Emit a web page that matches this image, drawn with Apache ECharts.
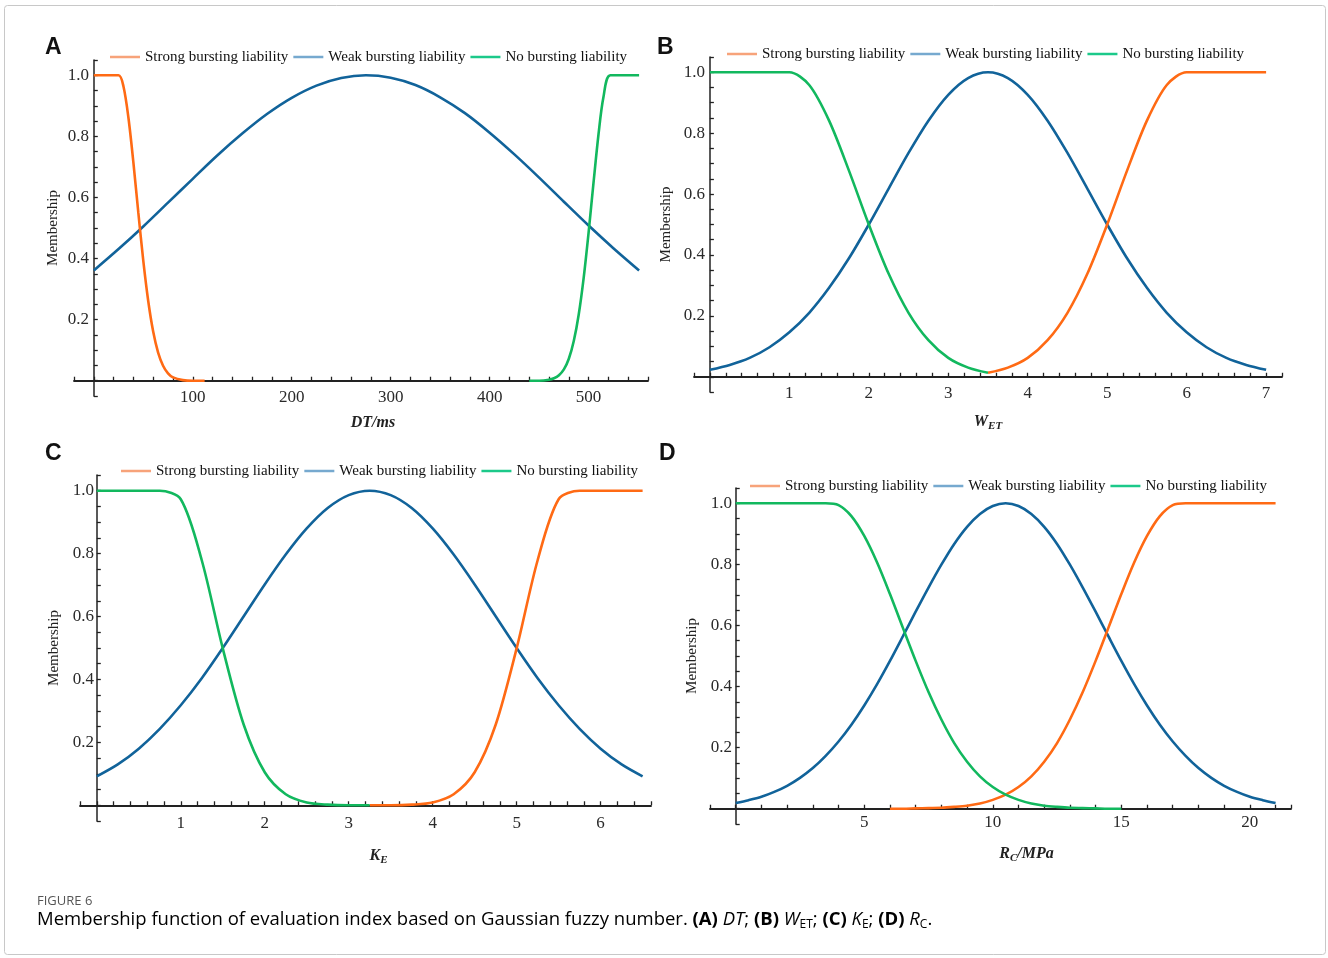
<!DOCTYPE html>
<html>
<head>
<meta charset="utf-8">
<script src="https://cdn.jsdelivr.net/npm/echarts@6/dist/echarts.min.js"></script>
<style>
  html, body { margin: 0; padding: 0; background: #fff; }
  #chart { width: 1328px; height: 958px; }
</style>
</head>
<body>
<div id="chart"></div>
<script>
  // series names, shared by the four panels
  const seriesNames = ['Strong bursting liability', 'Weak bursting liability', 'No bursting liability'];

  // (A) DT/ms
  const dtWeakX = [0, 25, 50, 75, 100, 125, 150, 175, 200, 225, 250, 275, 300, 325, 350, 375, 400, 425, 450, 475, 500, 525, 551];
  const dtWeak = [0.361, 0.431, 0.505, 0.583, 0.661, 0.738, 0.809, 0.873, 0.926, 0.966, 0.991, 1.000, 0.992, 0.968, 0.928, 0.876, 0.812, 0.741, 0.665, 0.586, 0.508, 0.434, 0.361];
  const dtStrongX = [0, 25, 30, 35, 40, 45, 50, 55, 60, 65, 70, 75, 80, 90, 100, 112];
  const dtStrong = [1, 1, 0.963, 0.861, 0.715, 0.550, 0.393, 0.261, 0.161, 0.092, 0.049, 0.024, 0.011, 0.002, 0.000, 0.000];
  const dtNoX = [440, 450, 460, 465, 470, 475, 480, 485, 490, 495, 500, 505, 510, 515, 522, 551];
  const dtNo = [0.000, 0.000, 0.003, 0.008, 0.018, 0.037, 0.072, 0.130, 0.217, 0.337, 0.486, 0.650, 0.807, 0.929, 1, 1];

  // (B) W_ET
  const wetX = [0, 0.25, 0.5, 0.75, 1, 1.25, 1.5, 1.75, 2, 2.25, 2.5, 2.75, 3, 3.25, 3.5, 3.75, 4, 4.25, 4.5, 4.75, 5, 5.25, 5.5, 5.75, 6, 6.25, 6.5, 6.75, 7];
  const wetStrong = [null, null, null, null, null, null, null, null, null, null, null, null, null, null, 0.013, 0.030, 0.062, 0.120, 0.210, 0.338, 0.500, 0.677, 0.841, 0.958, 1, 1, 1, 1, 1];
  const wetWeak = [0.023, 0.039, 0.062, 0.097, 0.146, 0.210, 0.292, 0.389, 0.500, 0.618, 0.735, 0.841, 0.926, 0.981, 1.000, 0.981, 0.926, 0.841, 0.735, 0.618, 0.500, 0.389, 0.292, 0.210, 0.146, 0.097, 0.062, 0.039, 0.023];
  const wetNo = [1, 1, 1, 1, 1, 0.958, 0.841, 0.677, 0.500, 0.338, 0.210, 0.120, 0.062, 0.030, 0.013, null, null, null, null, null, null, null, null, null, null, null, null, null, null];

  // (C) K_E
  const keX = [0, 0.25, 0.5, 0.75, 1, 1.25, 1.5, 1.75, 2, 2.25, 2.5, 2.75, 3, 3.25, 3.5, 3.75, 4, 4.25, 4.5, 4.75, 5, 5.25, 5.5, 5.75, 6, 6.25, 6.5];
  const keStrong = [null, null, null, null, null, null, null, null, null, null, null, null, null, 0.000, 0.000, 0.002, 0.009, 0.035, 0.105, 0.256, 0.499, 0.779, 0.973, 1, 1, 1, 1];
  const keWeak = [0.092, 0.130, 0.180, 0.243, 0.318, 0.404, 0.500, 0.601, 0.702, 0.797, 0.880, 0.945, 0.986, 1.000, 0.986, 0.945, 0.880, 0.797, 0.702, 0.601, 0.500, 0.404, 0.318, 0.243, 0.180, 0.130, 0.092];
  const keNo = [1, 1, 1, 1, 0.973, 0.779, 0.499, 0.256, 0.105, 0.035, 0.009, 0.002, 0.000, 0.000, null, null, null, null, null, null, null, null, null, null, null, null, null];

  // (D) R_C/MPa
  const rcX = [0, 0.5, 1, 1.5, 2, 2.5, 3, 3.5, 4, 4.5, 5, 5.5, 6, 6.5, 7, 7.5, 8, 8.5, 9, 9.5, 10, 10.5, 11, 11.5, 12, 12.5, 13, 13.5, 14, 14.5, 15, 15.5, 16, 16.5, 17, 17.5, 18, 18.5, 19, 19.5, 20, 20.5, 21];
  const rcStrong = [null, null, null, null, null, null, null, null, null, null, null, null, 0.000, 0.000, 0.001, 0.002, 0.003, 0.006, 0.010, 0.017, 0.029, 0.046, 0.071, 0.106, 0.154, 0.215, 0.292, 0.382, 0.484, 0.593, 0.703, 0.806, 0.893, 0.958, 0.994, 1, 1, 1, 1, 1, 1, 1, 1];
  const rcWeak = [0.019, 0.028, 0.039, 0.055, 0.075, 0.101, 0.133, 0.173, 0.220, 0.275, 0.338, 0.408, 0.484, 0.564, 0.645, 0.724, 0.799, 0.867, 0.923, 0.965, 0.991, 1.000, 0.991, 0.965, 0.923, 0.867, 0.799, 0.724, 0.645, 0.564, 0.484, 0.408, 0.338, 0.275, 0.220, 0.173, 0.133, 0.101, 0.075, 0.055, 0.039, 0.028, 0.019];
  const rcNo = [1, 1, 1, 1, 1, 1, 1, 1, 0.994, 0.958, 0.893, 0.806, 0.703, 0.593, 0.484, 0.382, 0.292, 0.215, 0.154, 0.106, 0.071, 0.046, 0.029, 0.017, 0.010, 0.006, 0.003, 0.002, 0.001, 0.000, 0.000, null, null, null, null, null, null, null, null, null, null, null, null];

  const ORANGE = '#ff6a14', BLUE = '#11639a', GREEN = '#12b85e';
  const LEG_COLORS = ['#f7a37a', '#76a9cf', '#1cc98a'];
  const SERIF = '"Liberation Serif", "Times New Roman", serif';

  const chart = echarts.init(document.getElementById('chart'));

  function pairs(xs, ys) {
    return xs.map((x, i) => [x, ys[i]]).filter(p => p[1] !== null);
  }

  function lineSeries(idx, name, color, data) {
    return {
      type: 'line', name: name, xAxisIndex: idx, yAxisIndex: idx,
      data: data, symbol: 'none', smooth: 0.3,
      lineStyle: { color: color, width: 2.6 }, itemStyle: { color: color },
      z: name === seriesNames[1] ? 2 : 3
    };
  }

  function makeLegend(left, top) {
    return {
      left: left, top: top, padding: 0, itemGap: 5, itemWidth: 30, itemHeight: 2.5,
      textStyle: { fontFamily: SERIF, fontSize: 15, color: '#111', lineHeight: 16 },
      data: seriesNames.map((n, i) => ({
        name: n, icon: 'rect',
        itemStyle: { color: LEG_COLORS[i], borderWidth: 0 }
      }))
    };
  }

  // labels and names are anchored to the grid edge, so margins are offset
  function yAxis(idx, labelMargin, nameGap) {
    return {
      type: 'value', gridIndex: idx, min: -0.05, max: 1.05, interval: 0.05,
      axisLine: { show: true, onZero: true, lineStyle: { color: '#222', width: 1.5 } },
      axisTick: { show: true, inside: true, length: 4, lineStyle: { color: '#222', width: 1.3 } },
      splitLine: { show: false },
      axisLabel: {
        fontFamily: SERIF, fontSize: 17, color: '#2a2a2a', margin: labelMargin,
        formatter: v => (v > 0.1 && Math.abs(v * 5 - Math.round(v * 5)) < 1e-6) ? v.toFixed(1) : ''
      },
      name: 'Membership', nameLocation: 'middle', nameGap: nameGap,
      nameTextStyle: { fontFamily: SERIF, fontSize: 15, color: '#222' }
    };
  }

  function xAxis(idx, min, max, interval, step, labelMargin, name, nameGap, shift, rich) {
    return {
      type: 'value', gridIndex: idx, min: min, max: max, interval: interval,
      axisLine: { show: true, onZero: true, lineStyle: { color: '#222', width: 1.8 } },
      axisTick: { show: true, inside: true, length: 4, lineStyle: { color: '#222', width: 1.3 } },
      splitLine: { show: false },
      axisLabel: {
        fontFamily: SERIF, fontSize: 17, color: '#2a2a2a', margin: labelMargin,
        formatter: v => (v > 0 && Math.abs(v / step - Math.round(v / step)) < 1e-6) ? String(Math.round(v)) : ''
      },
      name: name, nameLocation: 'middle', nameGap: nameGap,
      nameTextStyle: Object.assign({
        fontFamily: SERIF, fontSize: 16, fontWeight: 'bold', fontStyle: 'italic', color: '#222',
        padding: [0, 0, 0, shift]
      }, rich ? { rich: rich } : {})
    };
  }

  const subRich = {
    m: { fontFamily: SERIF, fontSize: 16, fontWeight: 'bold', fontStyle: 'italic', color: '#222', lineHeight: 20 },
    s: { fontFamily: SERIF, fontSize: 11, fontWeight: 'bold', fontStyle: 'italic', color: '#222', lineHeight: 10, verticalAlign: 'bottom' }
  };

  const CAP = '"Open Sans", sans-serif';
  const capRich = {
    n: { fontFamily: CAP, fontSize: 18.5, color: '#555', lineHeight: 22 },
    b: { fontFamily: CAP, fontSize: 18.5, fontWeight: 'bold', color: '#555', lineHeight: 22 },
    i: { fontFamily: CAP, fontSize: 18.5, fontStyle: 'italic', color: '#555', lineHeight: 22 },
    s: { fontFamily: CAP, fontSize: 12, color: '#555', lineHeight: 12, verticalAlign: 'bottom' }
  };

  const option = {
    animation: false,
    backgroundColor: '#fff',
    grid: [
      { left: 74, top: 60, width: 574, height: 336 },
      { left: 694, top: 57, width: 588, height: 335 },
      { left: 80, top: 475, width: 571, height: 346 },
      { left: 710, top: 488, width: 581, height: 336 }
    ],
    legend: [makeLegend(110, 49), makeLegend(727, 46), makeLegend(121, 463), makeLegend(750, 478)],
    xAxis: [
      xAxis(0, -20, 560, 20, 100, -7, 'DT/ms', 19, 24),
      xAxis(1, -0.2, 7.2, 0.2, 1, -7, '{m|W}{s|ET}', 20, 0, subRich),
      xAxis(2, -0.2, 6.6, 0.2, 1, -6, '{m|K}{s|E}', 25, 26, subRich),
      xAxis(3, -1, 21.6, 1, 5, -10, '{m|R}{s|C}{m|/MPa}', 20, 52, subRich)
    ],
    yAxis: [yAxis(0, -15, 13), yAxis(1, -11, 20), yAxis(2, -14, 18), yAxis(3, -22, 10)],
    series: [
      lineSeries(0, seriesNames[1], BLUE, pairs(dtWeakX, dtWeak)),
      lineSeries(0, seriesNames[0], ORANGE, pairs(dtStrongX, dtStrong)),
      lineSeries(0, seriesNames[2], GREEN, pairs(dtNoX, dtNo)),
      lineSeries(1, seriesNames[1], BLUE, pairs(wetX, wetWeak)),
      lineSeries(1, seriesNames[0], ORANGE, pairs(wetX, wetStrong)),
      lineSeries(1, seriesNames[2], GREEN, pairs(wetX, wetNo)),
      lineSeries(2, seriesNames[1], BLUE, pairs(keX, keWeak)),
      lineSeries(2, seriesNames[0], ORANGE, pairs(keX, keStrong)),
      lineSeries(2, seriesNames[2], GREEN, pairs(keX, keNo)),
      lineSeries(3, seriesNames[1], BLUE, pairs(rcX, rcWeak)),
      lineSeries(3, seriesNames[0], ORANGE, pairs(rcX, rcStrong)),
      lineSeries(3, seriesNames[2], GREEN, pairs(rcX, rcNo))
    ],
    graphic: [
      { type: 'rect', shape: { x: 4.5, y: 5.5, width: 1321, height: 949, r: 3 }, style: { fill: 'none', stroke: '#c8c8c8', lineWidth: 1 }, silent: true },
      { type: 'text', left: 45, top: 36, style: { text: 'A', font: 'bold 23px "Liberation Sans", Arial, sans-serif', fill: '#111' } },
      { type: 'text', left: 657, top: 36, style: { text: 'B', font: 'bold 23px "Liberation Sans", Arial, sans-serif', fill: '#111' } },
      { type: 'text', left: 45, top: 442, style: { text: 'C', font: 'bold 23px "Liberation Sans", Arial, sans-serif', fill: '#111' } },
      { type: 'text', left: 659, top: 442, style: { text: 'D', font: 'bold 23px "Liberation Sans", Arial, sans-serif', fill: '#111' } },
      { type: 'text', left: 37, top: 895, style: { text: 'FIGURE 6', font: '13px "Open Sans", sans-serif', fill: '#555' } },
      { type: 'text', left: 37, top: 910, style: {
        text: '{n|Membership function of evaluation index based on Gaussian fuzzy number. }{b|(A)}{n| }{i|DT}{n|; }{b|(B)}{n| }{i|W}{s|ET}{n|; }{b|(C)}{n| }{i|K}{s|E}{n|; }{b|(D)}{n| }{i|R}{s|C}{n|.}',
        rich: capRich
      } }
    ]
  };

  chart.setOption(option);
</script>
</body>
</html>
